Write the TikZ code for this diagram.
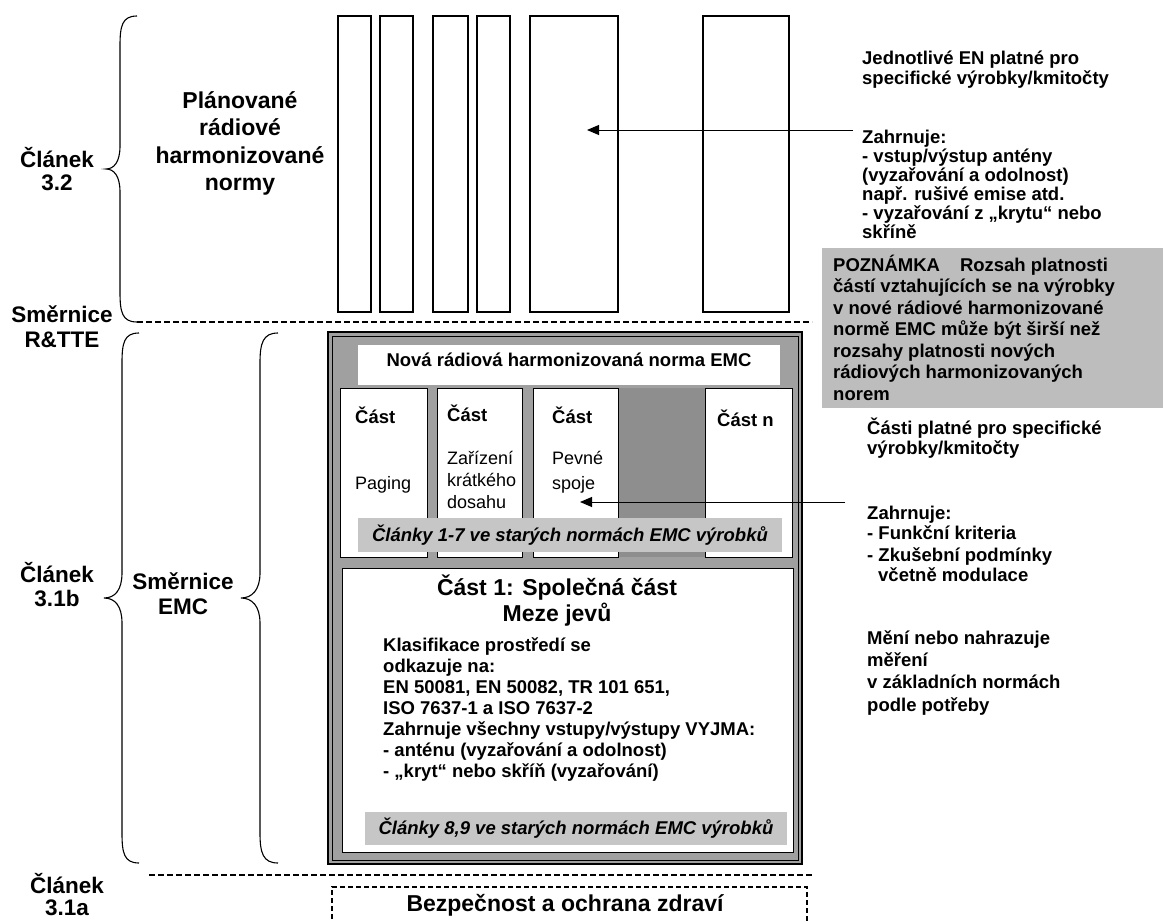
\documentclass[tikz,border=0pt]{standalone}
\usepackage{fontspec}
\setmainfont{Liberation Sans}
\usetikzlibrary{arrows.meta}
\definecolor{framegray}{HTML}{A0A0A0}
\definecolor{gapgray}{HTML}{8E8E8E}
\definecolor{notegray}{HTML}{BDBDBD}
\definecolor{stripgray}{HTML}{C6C6C6}
\tikzset{
  big/.style={font=\fontsize{22.5}{25}\selectfont\bfseries, inner sep=0pt, anchor=base},
  title/.style={font=\fontsize{23}{26}\selectfont\bfseries, inner sep=0pt, anchor=base},
  txt/.style={font=\fontsize{18.5}{20}\selectfont\bfseries, inner sep=0pt, anchor=base west},
  txtc/.style={font=\fontsize{18.5}{20}\selectfont\bfseries, inner sep=0pt, anchor=base},
  reg/.style={font=\fontsize{18}{20}\selectfont, inner sep=0pt, anchor=base west},
  striptxt/.style={font=\fontsize{18.5}{20}\selectfont\bfseries\itshape, inner sep=0pt, anchor=base},
  bar/.style={draw=black, line width=1.3pt, fill=white},
  partbox/.style={draw=black, line width=1pt, fill=white},
  sep/.style={line width=1.6pt, dash pattern=on 6pt off 3pt},
  arr/.style={line width=1pt, -{Triangle[length=12pt,width=10pt]}},
  bracepath/.style={line width=1.1pt},
}
\begin{document}
\begin{tikzpicture}[x=1pt,y=-1pt]
\useasboundingbox (0,0) rectangle (1163,921);
\clip (0,0) rectangle (1163,921);
\fill[white] (0,0) rectangle (1163,921);

% ---------- top bars ----------
\foreach \a/\b [count=\i] in {338/371,380/413,433/468,477/510,530/618,703/789}
  \draw[bar] (\a,16) rectangle (\b,312);
\coordinate (bartarget) at (587,130);
\coordinate (a1start) at (853,130);
\draw[arr] (a1start) -- (bartarget);

% ---------- separators ----------
\coordinate (s1a) at (137,322); \coordinate (s1b) at (812,322);
\coordinate (s2a) at (149,875); \coordinate (s2b) at (812,875);
\draw[sep] (s1a) -- (s1b);
\draw[sep] (s2a) -- (s2b);

% ---------- braces ----------
\draw[bracepath] (137,16) .. controls (122,16) and (120,26) .. (120,46)
  -- (120,146) .. controls (120,162) and (114,169) .. (106,169)
  .. controls (114,169) and (120,176) .. (120,192)
  -- (120,292) .. controls (120,312) and (122,322) .. (137,322);
\draw[bracepath] (139,333) .. controls (124,333) and (122,343) .. (122,363)
  -- (122,573) .. controls (122,590) and (115,598) .. (104,598)
  .. controls (115,598) and (122,606) .. (122,623)
  -- (122,833) .. controls (122,853) and (124,863) .. (139,863);
\draw[bracepath] (278,333) .. controls (263,333) and (260,343) .. (260,363)
  -- (260,573) .. controls (260,590) and (252,598) .. (241,598)
  .. controls (252,598) and (260,606) .. (260,623)
  -- (260,833) .. controls (260,853) and (263,863) .. (278,863);

% ---------- left labels ----------
\node[big] (c32a) at (57,167.5) {Článek};
\node[big] (c32b) at (57,190) {3.2};
\node[big] (smr1) at (62,322) {Směrnice};
\node[big] (rtte) at (62,347) {R\&TTE};
\node[big] (c31ba) at (57,582) {Článek};
\node[big] (c31bb) at (57,606) {3.1b};
\node[big] (semc1) at (183,589) {Směrnice};
\node[big] (semc2) at (183,614) {EMC};
\node[big] (c31aa) at (67,893) {Článek};
\node[big] (c31ab) at (67,915) {3.1a};

\node[title] (pl1) at (240,108) {Plánované};
\node[title] (pl2) at (240,135) {rádiové};
\node[title] (pl3) at (240,163) {harmonizované};
\node[title] (pl4) at (240,190) {normy};

% ---------- top right texts ----------
\node[txt] (tr1) at (862,64) {Jednotlivé EN platné pro};
\node[txt] (tr2) at (862,84) {specifické výrobky/kmitočty};
\node[txt] (tr3) at (862,143) {Zahrnuje:};
\node[txt] (tr4) at (862,162) {- vstup/výstup antény};
\node[txt] (tr5) at (862,181) {(vyzařování a odolnost)};
\node[txt] (tr6) at (862,200) {např. rušivé emise atd.};
\node[txt] (tr7) at (862,219) {- vyzařování z „krytu“ nebo};
\node[txt] (tr8) at (862,238) {skříně};

% ---------- note box ----------
\fill[notegray] (822,248) rectangle (1163,408);
\node[txt] (n1) at (833,271) {POZNÁMKA\hspace{0.8em} Rozsah platnosti};
\node[txt] (n2) at (833,292.5) {částí vztahujících se na výrobky};
\node[txt] (n3) at (833,314) {v nové rádiové harmonizované};
\node[txt] (n4) at (833,335.5) {normě EMC může být širší než};
\node[txt] (n5) at (833,357) {rozsahy platnosti nových};
\node[txt] (n6) at (833,378.5) {rádiových harmonizovaných};
\node[txt] (n7) at (833,400) {norem};

% ---------- right middle texts ----------
\node[txt] (rm1) at (867,434) {Části platné pro specifické};
\node[txt] (rm2) at (867,454) {výrobky/kmitočty};
\node[txt] (rm3) at (867,519) {Zahrnuje:};
\node[txt] (rm4) at (867,539) {- Funkční kriteria};
\node[txt] (rm5) at (867,561) {- Zkušební podmínky};
\node[txt] (rm6) at (878,581) {včetně modulace};
\node[txt] (rb1) at (867,644) {Mění nebo nahrazuje};
\node[txt] (rb2) at (867,666) {měření};
\node[txt] (rb3) at (867,688) {v základních normách};
\node[txt] (rb4) at (867,711) {podle potřeby};

% ---------- EMC frame ----------
\fill[framegray] (328,332) rectangle (802,864);
\draw[line width=1.5pt] (328,332) rectangle (802,864);
\draw[line width=0.7pt] (332,336) rectangle (798,860);
\fill[white] (358,345) rectangle (780,385);
\node[txtc] (hdr) at (569,366) {Nová rádiová harmonizovaná norma EMC};

\fill[gapgray] (618,388) rectangle (705,557);
\draw[partbox] (340,388) rectangle (427,557);
\draw[partbox] (437,388) rectangle (522,557);
\draw[partbox] (533,388) rectangle (618,557);
\draw[partbox] (705,388) rectangle (792,557);

\node[txt] (p1a) at (355,423) {Část};
\node[reg] (p1b) at (355,489) {Paging};
\node[txt] (p2a) at (447,421) {Část};
\node[reg] (p2b) at (447,464) {Zařízení};
\node[reg] (p2c) at (447,486) {krátkého};
\node[reg] (p2d) at (447,508) {dosahu};
\node[txt] (p3a) at (552,423) {Část};
\node[reg] (p3b) at (552,464) {Pevné};
\node[reg] (p3c) at (552,489) {spoje};
\node[txt] (p5a) at (717,426) {Část n};

\fill[stripgray] (358,518) rectangle (782,552);
\node[striptxt] (st1) at (570,541) {Články 1-7 ve starých normách EMC výrobků};

\draw[partbox] (342,568) rectangle (793,852);
\node[title] (c1a) at (557,595) {Část 1: Společná část};
\node[title] (c1b) at (557,621) {Meze jevů};
\node[txt] (k1) at (383,651) {Klasifikace prostředí se};
\node[txt] (k2) at (383,672) {odkazuje na:};
\node[txt] (k3) at (383,693) {EN 50081, EN 50082, TR 101 651,};
\node[txt] (k4) at (383,714) {ISO 7637-1 a ISO 7637-2};
\node[txt] (k5) at (383,735) {Zahrnuje všechny vstupy/výstupy VYJMA:};
\node[txt] (k6) at (383,756) {- anténu (vyzařování a odolnost)};
\node[txt] (k7) at (383,777) {- „kryt“ nebo skříň (vyzařování)};

\fill[stripgray] (365,812) rectangle (787,845);
\node[striptxt] (st2) at (576,834) {Články 8,9 ve starých normách EMC výrobků};

\coordinate (parttarget) at (580,502);
\coordinate (a2start) at (845,502);
\draw[arr] (a2start) -- (parttarget);

% ---------- bottom dashed box ----------
\draw[line width=1.3pt, dash pattern=on 5pt off 3pt] (332,935) -- (332,887) -- (807,887) -- (807,935);
\node[title] (bez) at (565,911) {Bezpečnost a ochrana zdraví};
\end{tikzpicture}
\end{document}
